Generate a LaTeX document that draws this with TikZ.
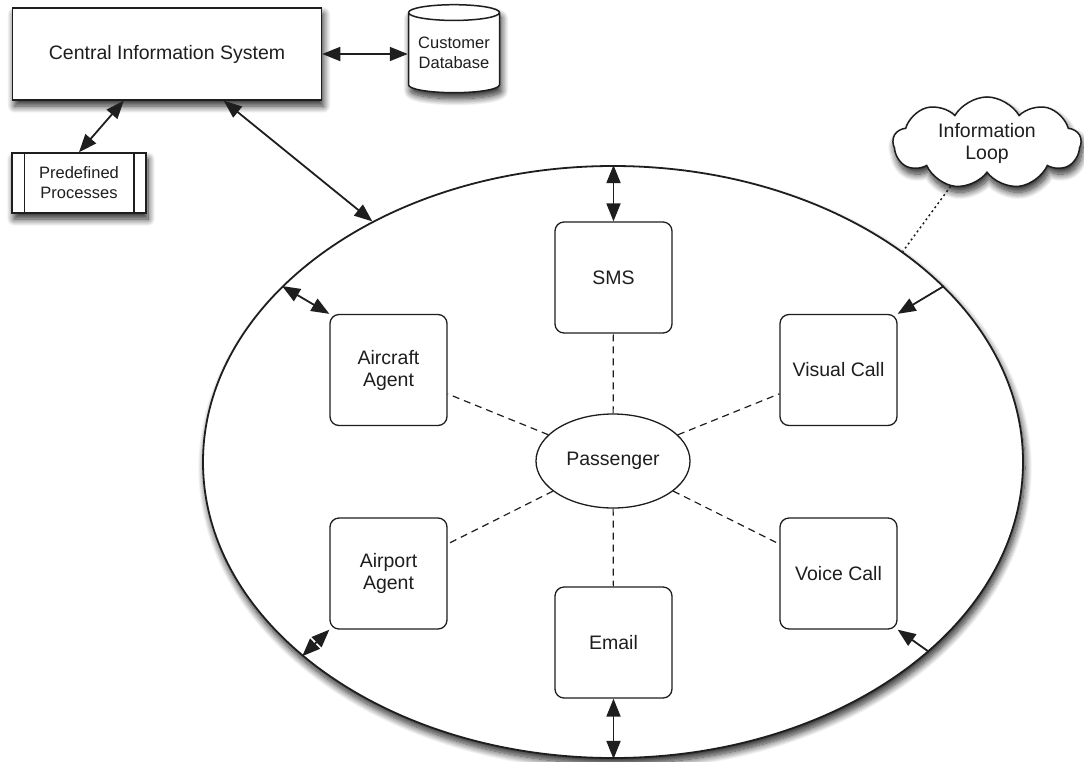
\documentclass[tikz,border=0pt]{standalone}
\usepackage{fontspec}
\setmainfont{Liberation Sans}
\usetikzlibrary{shapes.geometric,shapes.symbols,shadows.blur,arrows.meta,calc}
\definecolor{ink}{HTML}{1E1E1E}
\tikzset{
  base/.style={draw=ink, line width=1.5pt, fill=white, text=ink, align=center,
    font=\fontsize{19.5}{22}\selectfont, inner sep=0pt},
  small/.style={font=\fontsize{16.5}{20}\selectfont},
  softshadow/.style={blur shadow={shadow xshift=2pt, shadow yshift=-6pt,
    shadow blur radius=7pt, shadow blur steps=12, shadow opacity=85}},
  chan/.style={base, line width=1.3pt, rounded corners=9pt, minimum width=117pt, minimum height=111pt},
  link/.style={draw=ink, line width=1.8pt,
    {Triangle[length=18pt,width=14pt]}-{Triangle[length=18pt,width=14pt]}},
  onelink/.style={draw=ink, line width=1.8pt, -{Triangle[length=18pt,width=14pt]}},
  spoke/.style={draw=ink, line width=1.2pt, dash pattern=on 7pt off 5pt},
  dotline/.style={draw=ink, line width=1.5pt, dash pattern=on 2pt off 3pt}
}
\begin{document}
\begin{tikzpicture}[x=1pt,y=-1pt]
\useasboundingbox (0,0) rectangle (1084,761);

% outer channel ring
\node[base, line width=1.8pt, ellipse, softshadow, minimum width=820pt, minimum height=592pt] (ring) at (613,462) {};

% back-office blocks
\node[base, softshadow, minimum width=309pt, minimum height=92pt] (cis) at (167,54) {Central Information System};
\node[base, small, cylinder, shape border rotate=90, aspect=0.22, softshadow,
  minimum width=91pt, minimum height=88pt] (db) at (454,53) {Customer\\Database};
\node[base, small, softshadow, minimum width=134pt, minimum height=60pt] (pp) at (79,183) {Predefined\\Processes};
\draw[ink, line width=1.5pt] ([xshift=13pt]pp.north west) -- ([xshift=13pt]pp.south west);
\draw[ink, line width=1.5pt] ([xshift=-13pt]pp.north east) -- ([xshift=-13pt]pp.south east);
\node[base, cloud, cloud puffs=9, cloud puff arc=120, aspect=2, softshadow,
  minimum width=188pt, minimum height=92pt] (loop) at (987,143) {Information\\Loop};

% channels around the passenger
\node[chan] (sms) at (613.5,277.5) {SMS};
\node[chan] (aircraft) at (388.5,370) {Aircraft\\Agent};
\node[chan] (visual) at (838.5,370) {Visual Call};
\node[chan] (airport) at (388.5,573.5) {Airport\\Agent};
\node[chan] (voice) at (838.5,573.5) {Voice Call};
\node[chan] (email) at (613.5,642.5) {Email};
\node[base, ellipse, line width=1.3pt, minimum width=154pt, minimum height=94pt] (pass) at (613,461) {Passenger};

% dashed spokes
\foreach \c in {sms,aircraft,visual,airport,voice,email}
  \draw[spoke] (pass) -- (\c);

% connectors
\draw[link] (cis.east) -- (db.west |- cis.east);
\draw[link] (pp.north) -- ([xshift=112pt]cis.south west);
\draw[link] ([xshift=212pt]cis.south west) -- (ring.135.3);
\draw[link] (sms.north |- ring.north) -- (sms.north);
\draw[link] (email.south) -- (email.south |- ring.south);
\draw[link] (ring.152.6) -- (aircraft.north west);
\draw[link] (airport.south west) -- (ring.212.5);
\draw[onelink] (ring.28.8) -- (visual.north east);
\draw[onelink] (ring.329.2) -- (voice.south east);
\draw[dotline] (loop.230) -- (ring.36.9);
\end{tikzpicture}
\end{document}
